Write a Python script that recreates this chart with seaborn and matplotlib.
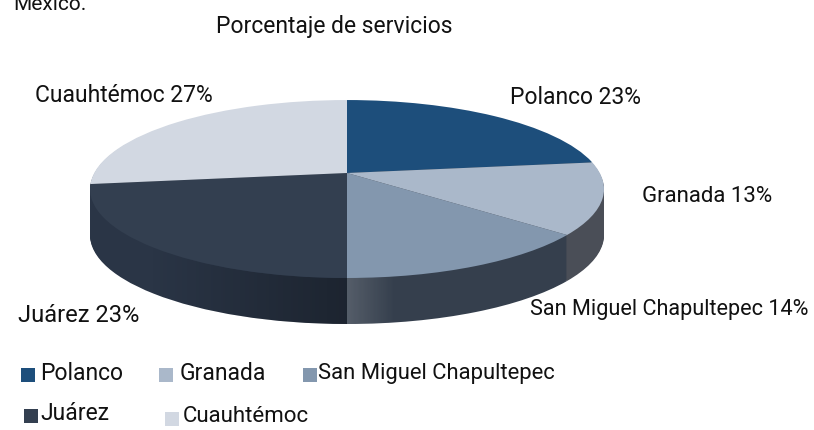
#!/usr/bin/env python3
"""Porcentaje de servicios - fake 3D pie"""

import matplotlib
matplotlib.use("Agg")
import matplotlib.pyplot as plt
from matplotlib.patches import Polygon
from matplotlib.transforms import Transform, Affine2D
import numpy as np
import seaborn as sns

zonas = ["Polanco", "Granada", "San Miguel Chapultepec", "Juárez", "Cuauhtémoc"]
valores = [23, 13, 14, 23, 27]
etiquetas = ["Polanco 23%", "Granada 13%", "San Miguel Chapultepec 14%", "Juárez 23%", "Cuauhtémoc 27%"]

sns.set_theme(style="white")
plt.rcParams['font.family'] = ['Roboto', 'DejaVu Sans']

colores = sns.color_palette(["#1d4e7b", "#aab8ca", "#8397ae", "#333f50", "#d2d8e2"])
lados = sns.color_palette(["#3a4654", "#4a4e57", "#353f4d", "#2a3546", "#2a3442"])

W, H = 814, 430
PROF = 46
CX, CY = 347, 173


class Perspectiva(Transform):
    """Inclina el disco: la parte de atras queda mas corta que la de adelante"""
    input_dims = 2
    output_dims = 2

    def __init__(self, k, a, b):
        super().__init__()
        self.k, self.a, self.b = k, a, b

    def transform_non_affine(self, values):
        x, y = values[:, 0], values[:, 1]
        d = 1 + self.k * y
        return np.column_stack([self.b * x / d, -self.a * y / d])


fig = plt.figure(figsize=(W / 100, H / 100), dpi=100, facecolor="white")
ax = fig.add_axes([0, 0, 1, 1])

persp = Perspectiva(0.18, 86.1, 252.8)


def dibuja(dy, cols, z):
    wedges, _ = ax.pie(valores, colors=cols, startangle=90, counterclock=False, radius=1,
                       wedgeprops={"linewidth": 0.4, "edgecolor": "none", "zorder": z})
    for w in wedges:
        w.set_transform(persp + Affine2D().translate(CX, CY + dy) + ax.transData)


for paso in range(PROF, 0, -1):
    dibuja(paso, lados, 1)
dibuja(0, colores, 3)

# sombreado del canto: oscurece hacia el frente y deja un brillo justo a la derecha
ang = np.linspace(-np.pi - 0.2, 0.2, 200)
arco = persp.transform(np.column_stack([np.cos(ang), np.sin(ang)])) + [CX, CY]
canto = Polygon(np.vstack([arco + [0, PROF], arco[::-1]]), closed=True, transform=ax.transData,
                facecolor="none", edgecolor="none")
ax.add_patch(canto)

xs = np.arange(85, 610)
rgba = np.zeros((1, xs.size, 4))
izq = xs < CX
rgba[0, izq, 3] = 0.32 * np.clip((xs[izq] - 150) / (CX - 150), 0, 1)
der = (xs >= CX) & (xs < 395)
rgba[0, der, :3] = 1
rgba[0, der, 3] = 0.16 * (395 - xs[der]) / (395 - CX)
img = ax.imshow(rgba, extent=(85, 610, CY + 200, CY - 100), aspect="auto", zorder=2,
                interpolation="bilinear")
img.set_clip_path(canto)

ax.set_aspect("auto")
ax.set_xlim(0, W)
ax.set_ylim(H, 0)
ax.axis("off")

fs = 16.5
ax.text(13, 5, "México.", fontsize=15, ha="left", va="center", color="#111111")
ax.text(216, 26, "Porcentaje de servicios", fontsize=fs, ha="left", va="center", color="#111111")
pos_etq = [(510, 97), (642, 196), (530, 309), (18, 316), (35, 95)]
tam_etq = [fs, 16, 15.6, 17, fs]
for t, (x, y), s in zip(etiquetas, pos_etq, tam_etq):
    ax.text(x, y, t, fontsize=s, ha="left", va="center", color="#111111")

pos_ley = [(28, 375), (166, 375), (310, 375), (30.5, 416), (171.5, 419)]
pos_txt = [(40, 373), (180, 374), (318, 374), (40, 414), (183, 416)]
tam_ley = [fs, fs, 15.8, fs, 16]
for z, c, (x, y), (tx, ty), s in zip(zonas, colores, pos_ley, pos_txt, tam_ley):
    ax.scatter([x], [y], marker="s", s=100, color=c, linewidths=0)
    ax.text(tx, ty, z, fontsize=s, ha="left", va="center", color="#111111")

fig.savefig("out.png", dpi=100)
